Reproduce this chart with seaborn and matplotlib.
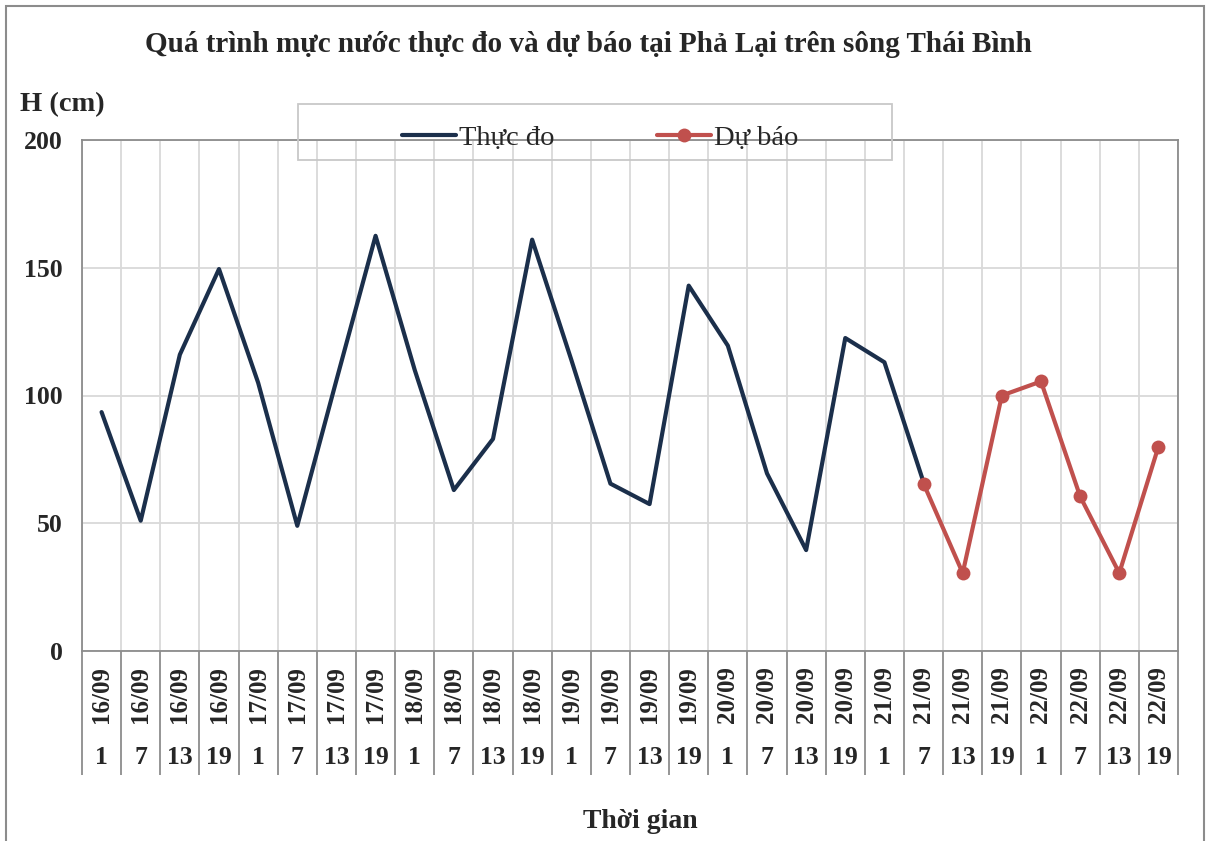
import matplotlib
matplotlib.use("Agg")
import matplotlib.pyplot as plt
from matplotlib.patches import Rectangle
import pandas as pd
import seaborn as sns

# chart values
days = ["16/09", "17/09", "18/09", "19/09", "20/09", "21/09", "22/09"]
hours = ["1", "7", "13", "19"]
observed = [93.5, 51, 116, 149.5, 105, 49, 106, 162.5, 110, 63, 83, 161,
            114, 65.5, 57.5, 143, 119.5, 69.5, 39.5, 122.5, 113, 66]
forecast = [65.5, 30.5, 100, 105.5, 60.5, 30.5, 80]

date_labels = [d for d in days for _ in hours]
hour_labels = [h for _ in days for h in hours]
n = len(date_labels)

obs_df = pd.DataFrame({"t": range(len(observed)), "H": observed})
fc_start = len(observed) - 1
fc_df = pd.DataFrame({"t": range(fc_start, fc_start + len(forecast)), "H": forecast})

sns.set_style("white")
plt.rcParams["font.family"] = ["Liberation Serif", "DejaVu Serif"]

fig = plt.figure(figsize=(12.14, 8.41), dpi=100)
ax = fig.add_axes([82 / 1214, 1 - 651 / 841, (1178 - 82) / 1214, (651 - 140) / 841])

sns.lineplot(data=obs_df, x="t", y="H", ax=ax, color="#1b2f4b", linewidth=3,
             label="Thực đo", zorder=3)
sns.lineplot(data=fc_df, x="t", y="H", ax=ax, color="#c0504d", linewidth=3,
             marker="o", markersize=10, markeredgewidth=0, label="Dự báo", zorder=4)

ax.set_xlim(-0.5, n - 0.5)
ax.set_ylim(0, 200)
ax.set_yticks([0, 50, 100, 150, 200])
ax.set_xticks([i - 0.5 for i in range(n + 1)], minor=True)
ax.set_xticks([])
ax.grid(True, which="minor", axis="x", color="#d9d9d9", linewidth=1.3)
ax.grid(True, which="major", axis="y", color="#d9d9d9", linewidth=1.3)
ax.tick_params(axis="y", length=0, pad=14, labelsize=18.5)
ax.tick_params(axis="x", which="both", length=0)
for lbl in ax.get_yticklabels():
    lbl.set_fontweight("bold")
for s in ax.spines.values():
    s.set_color("#8c8c8c")
    s.set_linewidth(1.3)
ax.set_xlabel("")
ax.set_ylabel("")

# two-level category labels below the axis
tr = ax.get_xaxis_transform()
ax.vlines([i - 0.5 for i in range(n + 1)], -0.243, 0, transform=tr,
          color="#8c8c8c", linewidth=1.3, clip_on=False)
for i in range(n):
    ax.text(i, -0.086, date_labels[i], transform=tr, rotation=90, ha="center",
            va="center", fontsize=18, fontweight="bold")
    ax.text(i, -0.209, hour_labels[i], transform=tr, ha="center", va="center",
            fontsize=18.5, fontweight="bold")

leg = ax.legend(loc="center", bbox_to_anchor=(600 / 1214, 1 - 138 / 841),
                bbox_transform=fig.transFigure, ncol=2, frameon=False,
                fontsize=20.5, handlelength=1.9, columnspacing=3.6, handletextpad=0.1)
fig.patches.append(Rectangle((298 / 1214, 1 - 160 / 841), 594 / 1214, 56 / 841,
                             transform=fig.transFigure, fill=False,
                             edgecolor="#c8c8c8", linewidth=1.3))

fig.text(588 / 1214, 1 - 45 / 841,
         "Quá trình mực nước thực đo và dự báo tại Phả Lại trên sông Thái Bình",
         ha="center", va="center", fontsize=21, fontweight="bold")
fig.text(20 / 1214, 1 - 105 / 841, "H (cm)", ha="left", va="center",
         fontsize=20.5, fontweight="bold")
fig.text(640 / 1214, 1 - 822 / 841, "Thời gian", ha="center", va="center",
         fontsize=20, fontweight="bold")

fig.patches.append(Rectangle((6 / 1214, -0.01), 1198 / 1214, 1 - 6 / 841 + 0.01,
                             transform=fig.transFigure, fill=False,
                             edgecolor="#8c8c8c", linewidth=1.5))

fig.savefig("out.png", dpi=100)
